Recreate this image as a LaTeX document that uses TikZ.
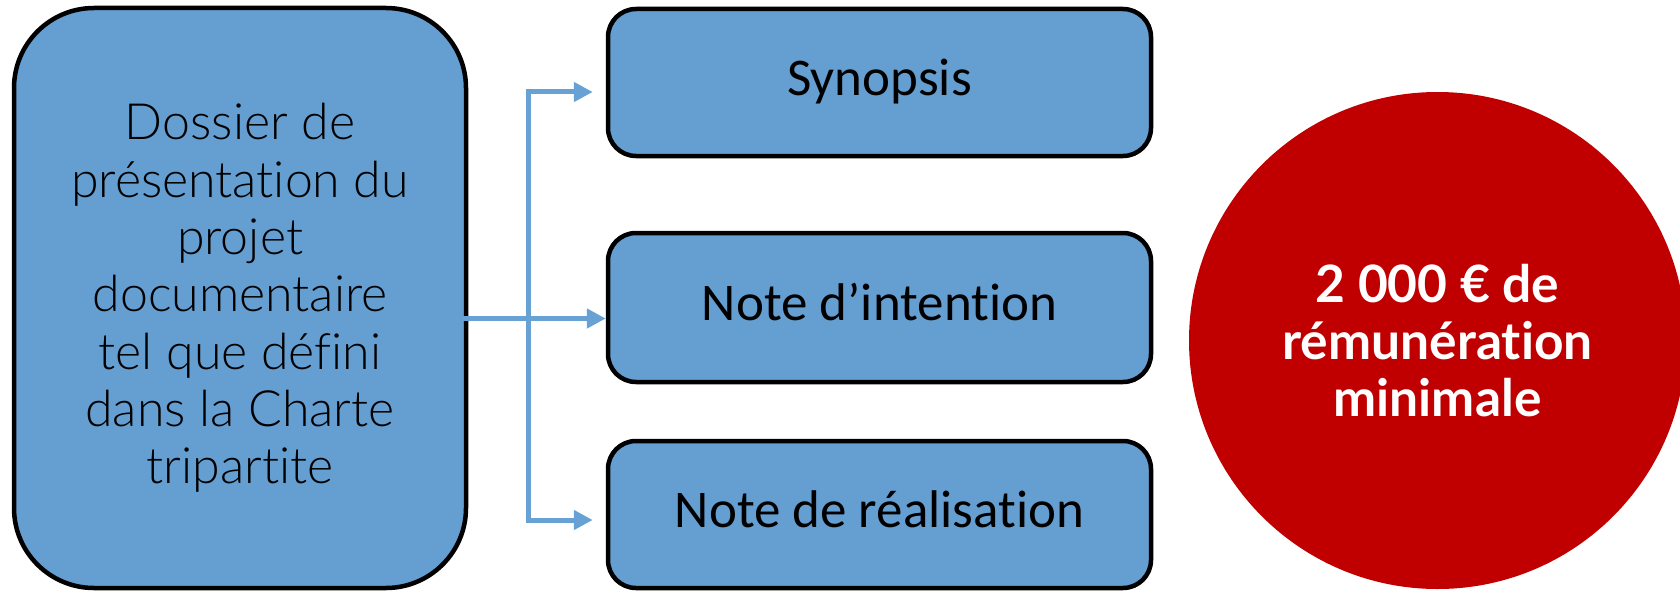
\documentclass[tikz,border=0pt]{standalone}
\usepackage{fontspec}
\usetikzlibrary{arrows.meta,calc}
\newfontfamily\latofont{Lato}[Ligatures=NoCommon]
\newfontfamily\latolight{Lato Light}[Ligatures=NoCommon]
\newfontfamily\carlitofont{Carlito}[Ligatures=NoCommon]
\definecolor{boxblue}{RGB}{101,158,208}
\definecolor{linkblue}{RGB}{104,162,212}
\definecolor{badgered}{RGB}{192,0,0}

\begin{document}
\begin{tikzpicture}[x=1pt,y=-1pt,
  bigbox/.style={draw=black, line width=4.5pt, fill=boxblue, rounded corners=80pt,
    minimum width=452pt, minimum height=580pt, align=center, inner sep=0pt,
    font=\latolight\fontsize{50}{57.3}\selectfont},
  itembox/.style={draw=black, line width=4.5pt, fill=boxblue, rounded corners=28pt,
    minimum width=543pt, minimum height=147pt, inner sep=0pt,
    text height=36.4pt, text depth=10.4pt,
    font=\carlitofont\fontsize{53}{60}\selectfont},
  badge/.style={circle, fill=badgered, minimum size=497pt, inner sep=0pt,
    text=white, align=center,
    font=\latofont\bfseries\fontsize{51.5}{57}\selectfont},
  link/.style={draw=linkblue, line width=5pt},
  tip/.tip={Triangle[length=19pt,width=19pt]},
]
\useasboundingbox (0,0) rectangle (1680,591);
\clip (0,0) rectangle (1680,591);

% main dossier
\node[bigbox] (dossier) at (240,298)
  {Dossier de\\présentation du\\projet\\documentaire\\tel que défini\\dans la Charte\\tripartite};

% the three components
\node[itembox] (syn) at (879.5,82.5) {Synopsis};
\node[itembox, minimum height=149pt] (note) at (879.5,307.5) {Note d’intention};
\node[itembox] (rea) at (879.5,514.5) {Note de réalisation};

% minimum fee badge
\node[badge] (fee) at (1437.5,340.5) {2 000 € de\\rémunération\\minimale};

% connectors
\coordinate (jt) at (528,92);
\coordinate (jm) at (528,318.5);
\coordinate (jb) at (528,520);
\draw[link, -tip, shorten <=-5pt] (dossier.east |- jm) -- (note.west |- jm);
\draw[link, tip-tip] ($(syn.west |- jt)+(-13,0)$) -- (jt) -- (jb) -- ($(rea.west |- jb)+(-13,0)$);
\end{tikzpicture}
\end{document}
